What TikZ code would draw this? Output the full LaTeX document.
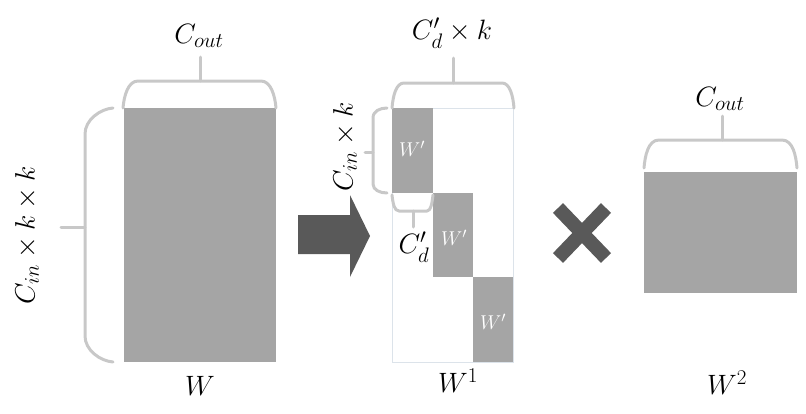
\documentclass[tikz,border=0pt]{standalone}
\usepackage{fix-cm}
\usepackage{amssymb,mathtools}
\usepackage{tikz}
\DeclareMathSizes{28}{28}{21}{16}
\DeclareMathSizes{20}{20}{15}{11}
\definecolor{blockgray}{HTML}{A5A5A5}
\definecolor{bracegray}{HTML}{C8C8C8}
\definecolor{markgray}{HTML}{595959}
\definecolor{edgegray}{HTML}{DCE3EA}
\tikzset{brace/.style={
    draw=bracegray, line width=3pt, line cap=round, line join=round
  },
  block/.style={fill=blockgray},
  mlbl/.style={font=\fontsize{28}{32}\selectfont, inner sep=0pt},
  wlbl/.style={text=white, font=\fontsize{20}{24}\selectfont, inner sep=0pt}
}

\begin{document}
\begin{tikzpicture}[x=1pt,y=-1pt]
      \useasboundingbox (0,0) rectangle (806,413);
      % W
      \fill[block] (124,108) rectangle (276,362);
      \draw[brace] (123,108) .. controls (124,96) and (128,81) .. (138,81) -- (261,81) .. controls (271,81) and (275,96) .. (276,108);
      \draw[brace] (200,81) -- (200,57);
      \draw[brace] (113,108) .. controls (100,109) and (85,120) .. (85,134) -- (85,336) .. controls (85,350) and (100,361) .. (113,362);
      \draw[brace] (85,227) -- (61,227);
      \node[mlbl] (cout) at (199,36) {$C_{out}$};
      \node[mlbl, rotate=90] (cinkk) at (27,235) {$C_{in}\times k\times k$};
      \node[mlbl] (w) at (200,386) {$W$};
      % arrow
      \fill[markgray] (298,215) -- (350,215) -- (350,195) -- (370,236) -- (350,277) -- (350,254) -- (298,254) -- cycle;
      % W^1
      \draw[edgegray, line width=1pt] (392,108) rectangle (513,362);
      \fill[block] (392,108) rectangle (433,193);
      \fill[block] (433,193) rectangle (473,277);
      \fill[block] (473,277) rectangle (513,362);
      \node[wlbl] (wa) at (412,149) {$W'$};
      \node[wlbl] (wb) at (454,238) {$W'$};
      \node[wlbl] (wc) at (493,322) {$W'$};
      \draw[brace] (392,108) .. controls (393,96) and (396,83) .. (404,83) -- (502,83) .. controls (510,83) and (513,96) .. (514,108);
      \draw[brace] (453,83) -- (453,58);
      \draw[brace] (387,108) .. controls (380,108) and (373,111) .. (373,118) -- (373,184) .. controls (373,190) and (380,193) .. (387,193);
      \draw[brace] (373,152) -- (365,152);
      \draw[brace] (392,195) .. controls (393,203) and (394,211) .. (399,211) -- (427,211) .. controls (431,211) and (432,203) .. (433,195);
      \draw[brace] (413,211) -- (413,227);
      \node[mlbl] (cdk) at (452,33) {$C_d'\times k$};
      \node[mlbl, rotate=90] (cink) at (345,147) {$C_{in}\times k$};
      \node[mlbl] (cd) at (414,247) {$C_d'$};
      \node[mlbl] (w1) at (458,381) {$W^1$};
      % times
      \draw[markgray, line width=14pt] (558,208) -- (606,258) (558,258) -- (606,208);
      % W^2
      \fill[block] (644,172) rectangle (797,293);
      \draw[brace] (644,168) .. controls (645,156) and (648,140) .. (659,140) -- (782,140) .. controls (793,140) and (796,156) .. (797,168);
      \draw[brace] (722,140) -- (722,116);
      \node[mlbl] (cout2) at (720,99) {$C_{out}$};
      \node[mlbl] (w2) at (727,383) {$W^2$};
\end{tikzpicture}
\end{document}
